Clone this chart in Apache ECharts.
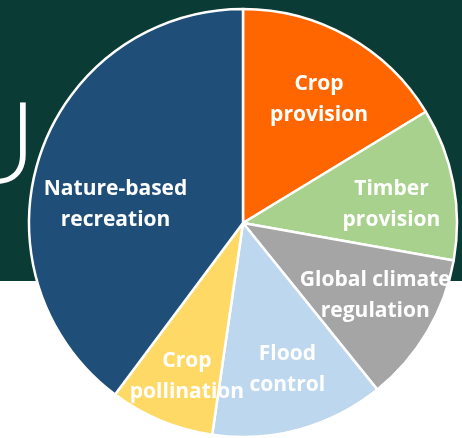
<!DOCTYPE html>
<html>
<head>
<meta charset="utf-8">
<script src="https://cdn.jsdelivr.net/npm/echarts@6/dist/echarts.min.js"></script>
<style>
html,body{margin:0;padding:0;background:#fff;}
#chart{width:462px;height:438px;}
</style>
</head>
<body>
<div id="chart"></div>
<script>
// Data (clockwise from 12 o'clock)
const categories = ['Crop\nprovision', 'Timber\nprovision', 'Global climate\nregulation', 'Flood\ncontrol', 'Crop\npollination', 'Nature-based\nrecreation'];
const values = [16.3, 11.5, 11.4, 13.1, 7.9, 39.8];
const colors = ['#ff6600', '#a9d18e', '#a5a5a5', '#bdd7ee', '#ffd966', '#1f4e79'];

// Layout / style (not data)
const CX = 243, CY = 223, R = 214;
const LABEL_SCALE = 1.355;
const labelNudge = [[3, 6], [2, 9], [4, -3], [5, 3], [1, 16], [14, 28]];

const chart = echarts.init(document.getElementById('chart'), null, {renderer: 'canvas'});
chart.setOption({
  animation: false,
  backgroundColor: '#ffffff',
  graphic: [
    {type: 'rect', z: -10, shape: {x: 0, y: 0, width: 462, height: 281}, style: {fill: '#0b3b35'}},
    {type: 'text', z: -9, x: 36, y: 207,
      style: {text: 'U', fill: '#ffffff', font: '300 112px "Open Sans"', textAlign: 'right', textVerticalAlign: 'bottom'}}
  ],
  series: [{
    type: 'pie',
    center: [CX, CY],
    radius: [0, R],
    startAngle: 90,
    clockwise: true,
    avoidLabelOverlap: false,
    data: categories.map((c, i) => ({name: c, value: values[i], itemStyle: {color: colors[i]}})),
    itemStyle: {borderColor: '#ffffff', borderWidth: 2.5},
    label: {
      show: true,
      position: 'inside',
      formatter: '{b}',
      color: '#ffffff',
      fontFamily: '"Open Sans"',
      fontWeight: 'bold',
      fontSize: 21,
      lineHeight: 31,
      align: 'center'
    },
    labelLine: {show: false},
    labelLayout: function (p) {
      const r = p.labelRect;
      const lx = r.x + r.width / 2, ly = r.y + r.height / 2;
      const n = labelNudge[p.dataIndex];
      return {dx: (lx - CX) * (LABEL_SCALE - 1) + n[0], dy: (ly - CY) * (LABEL_SCALE - 1) + n[1]};
    },
    emphasis: {disabled: true}
  }]
});
</script>
</body>
</html>
